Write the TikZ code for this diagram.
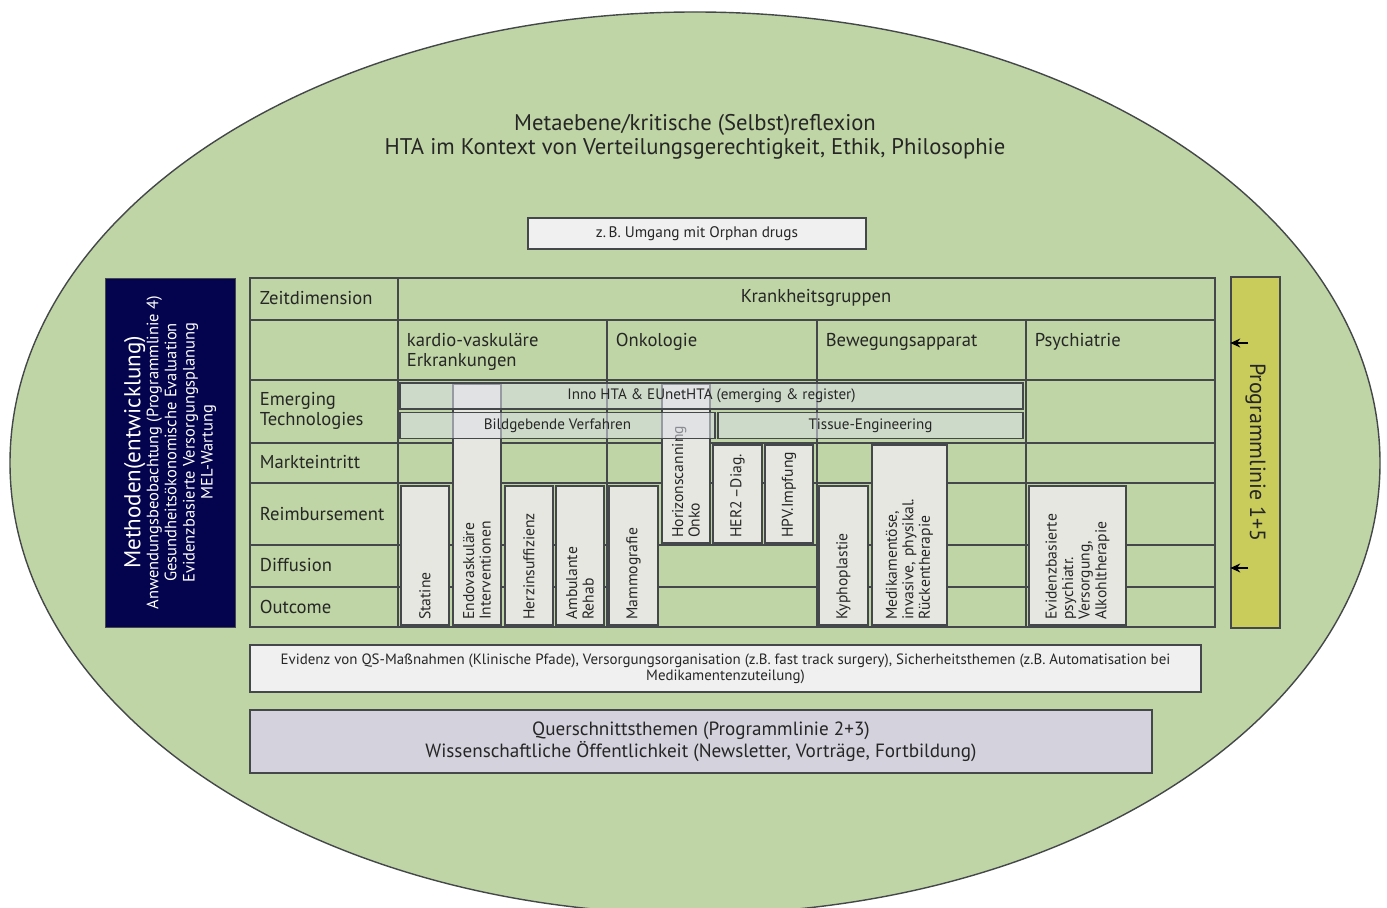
\documentclass[tikz,border=0pt]{standalone}
\usepackage{fontspec}
\setmainfont{PT Sans}
\usepackage{xcolor}
\usetikzlibrary{arrows.meta,positioning}
\definecolor{ovalgreen}{HTML}{BFD5A5}
\definecolor{navybox}{HTML}{03034E}
\definecolor{progyellow}{HTML}{C9CB5B}
\definecolor{cellfill}{HTML}{E6E7E1}
\definecolor{barfill}{HTML}{DCDFE8}
\definecolor{lightfill}{HTML}{F0F0F0}
\definecolor{querfill}{HTML}{D4D3DD}
\definecolor{linegray}{HTML}{45484A}
\definecolor{txtgray}{HTML}{262626}

\begin{document}
\begin{tikzpicture}[
    x=0.02cm, y=-0.02cm,
    text=txtgray,
    font=\fontsize{10.6}{11.6}\selectfont,
    grid/.style={draw=linegray, line width=0.6pt},
    lbl/.style={inner sep=2pt, align=left},
    tech/.style={draw=linegray, line width=0.8pt, fill=cellfill, rotate=90,
                 align=left, inner xsep=3pt, inner ysep=0pt,
                 font=\fontsize{8.9}{9.4}\selectfont},
    bar/.style={draw=linegray, line width=0.7pt, fill=barfill, fill opacity=0.55,
                text opacity=1, font=\fontsize{8.6}{9}\selectfont},
    plain/.style={draw=linegray, line width=0.7pt, align=center},
    arr/.style={-{Stealth[length=2mm, width=1.8mm]}, line width=0.6pt, black}
]

\fill[white] (0,0) rectangle (1387,908);
\useasboundingbox (0,0) rectangle (1387,908);
\draw[fill=ovalgreen, draw=linegray, line width=0.8pt]
    (695,463) ellipse [x radius=685, y radius=451];

\node[align=center, font=\fontsize{12.9}{13.7}\selectfont] (meta) at (695,137)
    {Metaebene/kritische (Selbst)reflexion\\
     HTA im Kontext von Verteilungsgerechtigkeit, Ethik, Philosophie};
\node[plain, fill=lightfill, minimum width=6.76cm, minimum height=0.62cm,
      font=\fontsize{8.7}{9}\selectfont] (orphan) at (697,233.5)
    {z.\,B. Umgang mit Orphan drugs};

\node[draw=linegray, fill=navybox, text=white, rotate=90, align=center,
      minimum width=6.98cm, minimum height=2.6cm,
      font=\fontsize{9.4}{10.3}\selectfont] (methoden) at (170,452.5)
    {{\fontsize{13.1}{14}\selectfont Methoden(entwicklung)}\\
     Anwendungsbeobachtung (Programmlinie 4)\\
     Gesundheitsökonomische Evaluation\\
     Evidenzbasierte Versorgungsplanung\\
     MEL-Wartung};

\draw[grid] (250,278) rectangle (1215,627);
\draw[grid] (250,320) -- (1215,320);
\draw[grid] (250,380) -- (1215,380);
\draw[grid] (250,443) -- (1215,443);
\draw[grid] (250,483) -- (1215,483);
\draw[grid] (250,545) -- (1215,545);
\draw[grid] (250,587) -- (1215,587);
\draw[grid] (398,278) -- (398,627);
\draw[grid] (607,320) -- (607,627);
\draw[grid] (817,320) -- (817,627);
\draw[grid] (1026,320) -- (1026,627);

\node[lbl, anchor=west] (zeit) at (256,298) {Zeitdimension};
\node[lbl] (krank) at (816,298) {Krankheitsgruppen};
\node[lbl, anchor=north west] (kardio) at (403,329) {kardio-vaskuläre\\Erkrankungen};
\node[lbl, anchor=north west] (onko) at (612,329) {Onkologie};
\node[lbl, anchor=north west] (beweg) at (822,329) {Bewegungsapparat};
\node[lbl, anchor=north west] (psych) at (1031,329) {Psychiatrie};
\node[lbl, anchor=west] (emerg) at (256,411) {Emerging\\Technologies};
\node[lbl, anchor=west] (markt) at (256,462) {Markteintritt};
\node[lbl, anchor=west] (reimb) at (256,514) {Reimbursement};
\node[lbl, anchor=west] (diffu) at (256,565) {Diffusion};
\node[lbl, anchor=west] (outc) at (256,607) {Outcome};

\node[tech, text width=2.57cm, minimum height=0.96cm] (statine) at (425,555.5) {Statine};
\node[tech, text width=4.61cm, minimum height=0.96cm] (endo) at (477,504.5)
    {Endovaskuläre\\Interventionen};
\node[tech, text width=2.57cm, minimum height=0.96cm] (herz) at (529,555.5) {Herzinsuffizienz};
\node[tech, text width=2.57cm, minimum height=0.96cm] (reha) at (580,555.5) {Ambulante\\Rehab};
\node[tech, text width=2.57cm, minimum height=0.98cm] (mammo) at (633.5,555.5) {Mammografie};
\node[tech, text width=2.97cm, minimum height=0.96cm] (horizon) at (686,463.5)
    {Horizonscanning\\Onko};
\node[tech, text width=1.75cm, minimum height=0.98cm] (her) at (737.5,494) {HER2\,–Diag.};
\node[tech, text width=1.75cm, minimum height=0.96cm] (hpv) at (789,494) {HPV.Impfung};
\node[tech, text width=2.57cm, minimum height=0.98cm] (kypho) at (843.5,555.5) {Kyphoplastie};
\node[tech, text width=3.39cm, minimum height=1.50cm] (ruecken) at (909.5,535)
    {Medikamentöse,\\invasive, physikal.\\Rückentherapie};
\node[tech, text width=2.57cm, minimum height=1.94cm] (psychv) at (1077.5,555.5)
    {Evidenzbasierte\\psychiatr.\\Versorgung,\\Alkohltherapie};

\node[bar, minimum width=12.46cm, minimum height=0.48cm] (inno) at (711.5,396)
    {Inno HTA \& EUnetHTA (emerging \& register)};
\node[bar, minimum width=6.3cm, minimum height=0.5cm] (bild) at (557.5,425.5)
    {Bildgebende Verfahren};
\node[bar, minimum width=6.1cm, minimum height=0.5cm] (tissue) at (870.5,425.5)
    {Tissue-Engineering};

\node[draw=linegray, line width=0.8pt, fill=progyellow, rotate=-90,
      minimum width=7.02cm, minimum height=0.98cm,
      font=\fontsize{12.5}{13}\selectfont] (prog) at (1255.5,452.5) {Programmlinie 1+5};
\coordinate (pa) at (1248,343);
\coordinate (pb) at (1248,568);
\draw[arr] (pa) -- (pa -| prog.south);
\draw[arr] (pb) -- (pb -| prog.south);

\node[plain, fill=lightfill, minimum width=19.02cm, minimum height=0.94cm,
      font=\fontsize{8.5}{9.1}\selectfont] (evidenz) at (725.5,668.5)
    {Evidenz von QS-Maßnahmen (Klinische Pfade), Versorgungsorganisation (z.B. fast track surgery), Sicherheitsthemen (z.B. Automatisation bei\\
     Medikamentenzuteilung)};
\node[plain, fill=querfill, line width=1pt, minimum width=18.04cm, minimum height=1.26cm,
      font=\fontsize{10.9}{10.9}\selectfont] (quer) at (701,741.5)
    {Querschnittsthemen (Programmlinie 2+3)\\
     Wissenschaftliche Öffentlichkeit (Newsletter, Vorträge, Fortbildung)};

\end{tikzpicture}
\end{document}
